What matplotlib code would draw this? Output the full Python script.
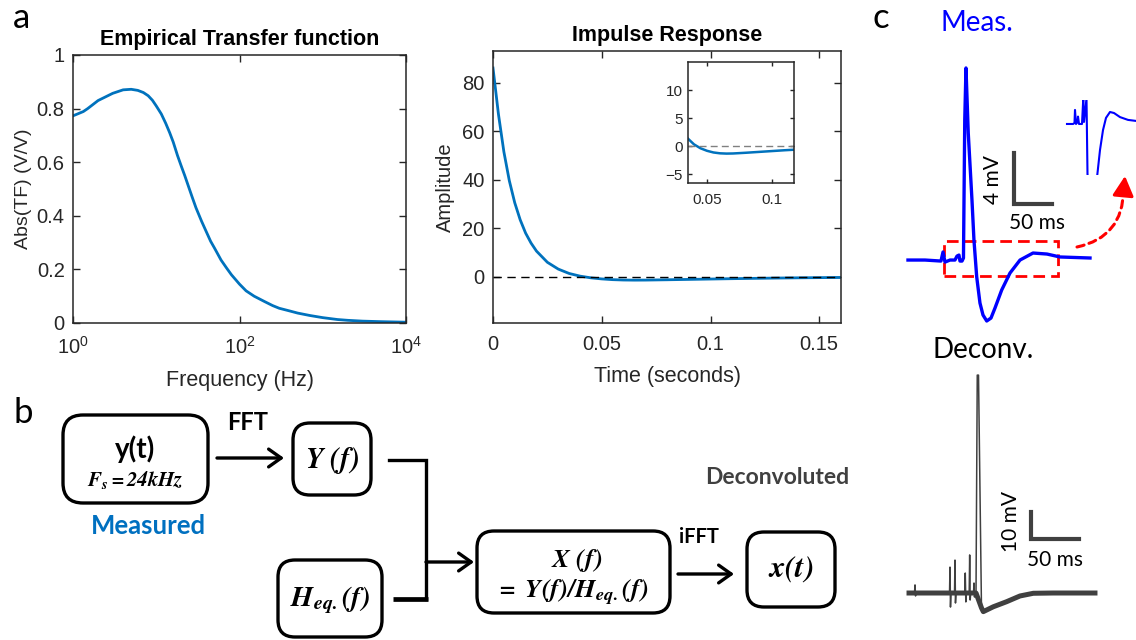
import matplotlib
matplotlib.use("Agg")
import matplotlib.pyplot as plt
from matplotlib.patches import FancyBboxPatch, FancyArrowPatch, Rectangle
from matplotlib.ticker import NullLocator

W, H = 1136, 640

# ---- values ----
# panel a, left: empirical transfer function
tf_freq_hz = [1, 1.33, 1.5, 2, 3, 4, 5, 6, 7, 8, 9, 10, 11.5, 13, 14.5, 16,
              18, 20, 22, 25, 27, 30, 35, 40, 45, 50, 60, 70, 80, 100, 120,
              150, 200, 250, 300, 400, 500, 700, 1000, 1500, 2000, 3000, 5000,
              10000]
tf_abs = [0.773, 0.789, 0.80, 0.83, 0.857, 0.870, 0.872, 0.868, 0.860, 0.848,
          0.831, 0.81, 0.78, 0.745, 0.71, 0.675, 0.625, 0.585, 0.55, 0.50,
          0.47, 0.43, 0.38, 0.34, 0.305, 0.28, 0.235, 0.205, 0.18, 0.145,
          0.12, 0.10, 0.08, 0.065, 0.055, 0.045, 0.037, 0.028, 0.02, 0.013,
          0.01, 0.007, 0.005, 0.003]

# panel a, right: impulse response
ir_time_s = [0, 0.0025, 0.005, 0.0075, 0.01, 0.0125, 0.015, 0.0175, 0.02,
             0.025, 0.03, 0.035, 0.04, 0.045, 0.05, 0.055, 0.06, 0.065, 0.07,
             0.08, 0.09, 0.1, 0.11, 0.12, 0.13, 0.14, 0.15, 0.16]
ir_amp = [86, 67, 51.5, 39.6, 30.5, 23.5, 18.0, 13.9, 10.6, 6.0, 3.2, 1.4,
          0.3, -0.4, -0.85, -1.15, -1.3, -1.35, -1.33, -1.2, -1.05, -0.9,
          -0.75, -0.62, -0.5, -0.4, -0.32, -0.25]

# panel c: measured trace (ms, mV)
meas_t = [0, 22.4, 43.4, 46.1, 48.7, 55.3, 61.8, 64.5, 67.1, 68.4, 71.1, 73.0,
          74.7, 76.3, 79.3, 84.2, 86.8, 90.4, 94.7, 98.7, 103.6, 109.2, 114.5,
          123.3, 134.2, 147.4, 164.5, 182.9, 200, 239.5]
meas_v = [0, 0, -0.08, 0.63, -0.16, 0, 0, 0.31, 0.39, -0.08, -0.08, 0.16,
          11.0, 15.06, 9.96, 4.7, 1.57, -1.31, -3.37, -4.31, -4.78, -4.55,
          -3.76, -2.35, -1.02, 0, 0.55, 0.47, 0.24, 0.16]

# panel c: enlarged view of the dashed window
zoom_t = [47, 58, 60.5, 61.4, 63.2, 66, 66.8, 68.6, 74, 76.3, 77.6, 82.1,
          83.9, 86.6, 97.4, 101.5, 106.4, 111.8, 117.2, 124.4, 131.6, 142.4,
          156.8, 171.2]
zoom_v = [0, 0, 0.04, 0.55, 0, 0.08, 0.29, 0, 0, 1.0, 0.08, 1.0, -1.96,
          -2.9, -2.9, -2.0, -1.02, -0.24, 0.24, 0.47, 0.43, 0.27, 0.16, 0.12]
zoom_window = (47.4, 197.4, -1.25, 1.49)   # t0, t1, v0, v1

# panel c: deconvolved trace (ms, mV)
dec_t = [0, 5.7, 6.25, 6.8, 7.3, 42.2, 42.7, 43.2, 43.75, 47.4, 47.9, 48.4,
         49, 58.1, 58.6, 59.2, 59.7, 62.7, 63.2, 63.7, 64.3, 67.2, 67.7, 68.2,
         68.75, 69.8, 71.1, 72.4, 75.5, 77.4, 87.8, 101.8, 115.6, 129.5, 150,
         193.75]
dec_v = [0, 0, 3.0, -1.1, 0, 0, 9.6, -5.2, 0, 0, 12.2, -3.7, 0, 0, 7.4, -3.3,
         0, 0, 14.1, -2.6, 0, 0, 3.7, -1.5, 0, 0, 80.7, 80.7, -5.5, -6.9,
         -5.1, -3.2, -1.1, -0.1, 0, 0]
dec_base_t = [0, 69.8, 75.5, 77.4, 87.8, 101.8, 115.6, 129.5, 150, 193.75]
dec_base_v = [0, 0, -5.5, -6.9, -5.1, -3.2, -1.1, -0.1, 0, 0]

# ---- style ----
plt.rcParams["font.family"] = ["Liberation Sans", "DejaVu Sans"]
plt.rcParams["mathtext.fontset"] = "custom"
plt.rcParams["mathtext.rm"] = "Liberation Sans"
plt.rcParams["mathtext.it"] = "Liberation Sans:italic"
plt.rcParams["mathtext.bf"] = "Liberation Sans:bold"

MATLAB_BLUE = "#0072BD"
AX_GREY = "#262626"
TRACE_BLUE = "#0000FF"
DARK = "#404040"
PANEL_FONT = ["Lato", "DejaVu Sans"]


def px_rect(x0, y0, x1, y1):
    return [x0 / W, 1 - y1 / H, (x1 - x0) / W, (y1 - y0) / H]


def matlab_style(ax, labelsize=14.5, xpad=9, ypad=6):
    for s in ax.spines.values():
        s.set_color(AX_GREY)
        s.set_linewidth(1.1)
    ax.tick_params(direction="in", top=True, right=True, length=5, width=1.0,
                   colors=AX_GREY, labelsize=labelsize)
    ax.tick_params(axis="x", pad=xpad)
    ax.tick_params(axis="y", pad=ypad)


fig = plt.figure(figsize=(W / 100, H / 100), dpi=100)

# pixel-coordinate overlay for panel letters and the block diagram
ov = fig.add_axes([0, 0, 1, 1])
ov.set_xlim(0, W)
ov.set_ylim(H, 0)
ov.axis("off")

# ---- panel a, transfer function ----
ax1 = fig.add_axes(px_rect(73, 55, 406, 323))
ax1.semilogx(tf_freq_hz, tf_abs, color=MATLAB_BLUE, lw=2)
ax1.set_xlim(1, 1e4)
ax1.set_ylim(0, 1)
ax1.set_xticks([1, 1e2, 1e4], ["$10^0$", "$10^2$", "$10^4$"])
ax1.xaxis.set_minor_locator(NullLocator())
ax1.set_yticks([0, 0.2, 0.4, 0.6, 0.8, 1], ["0", "0.2", "0.4", "0.6", "0.8", "1"])
matlab_style(ax1)
ax1.set_xlabel("Frequency (Hz)", fontsize=15.5, color=AX_GREY, labelpad=9)
ax1.set_ylabel("Abs(TF) (V/V)", fontsize=14, color=AX_GREY, labelpad=3)
ax1.set_title("Empirical Transfer function", fontsize=15.5, fontweight="bold", pad=7)

# ---- panel a, impulse response ----
ax2 = fig.add_axes(px_rect(493, 51, 841, 323))
ax2.plot(ir_time_s, ir_amp, color=MATLAB_BLUE, lw=2)
ax2.axhline(0, color="black", ls=(0, (6, 4)), lw=1)
ax2.set_xlim(0, 0.16)
ax2.set_ylim(-19, 93)
ax2.set_xticks([0, 0.05, 0.1, 0.15], ["0", "0.05", "0.1", "0.15"])
ax2.set_yticks([0, 20, 40, 60, 80])
matlab_style(ax2)
ax2.set_xlabel("Time (seconds)", fontsize=15.5, color=AX_GREY, labelpad=8)
ax2.set_ylabel("Amplitude", fontsize=14.5, color=AX_GREY, labelpad=5)
ax2.set_title("Impulse Response", fontsize=15.5, fontweight="bold", pad=7)

ax3 = fig.add_axes(px_rect(688, 62, 794, 183))
ax3.plot(ir_time_s, ir_amp, color=MATLAB_BLUE, lw=1.8)
ax3.axhline(0, color="#808080", ls=(0, (5, 3)), lw=1)
ax3.set_xlim(0.0354, 0.117)
ax3.set_ylim(-6.6, 15)
ax3.set_xticks([0.05, 0.1], ["0.05", "0.1"])
ax3.set_yticks([-5, 0, 5, 10])
matlab_style(ax3, labelsize=11, xpad=7, ypad=4)
ax3.tick_params(length=3)

# ---- panel letters ----
for letter, x, y in [("a", 22, 18), ("b", 23, 413), ("c", 881, 18)]:
    ov.text(x, y, letter, fontsize=25, family=PANEL_FONT, ha="center", va="center")

# ---- panel b, block diagram ----
def box(x0, y0, x1, y1, r=17):
    ov.add_patch(FancyBboxPatch((x0, y0), x1 - x0, y1 - y0,
                                boxstyle=f"round,pad=0,rounding_size={r}",
                                fc="none", ec="black", lw=2.4))


def arrow(x0, x1, y):
    ov.add_patch(FancyArrowPatch((x0, y), (x1, y),
                                 arrowstyle="->,head_length=0.45,head_width=0.32",
                                 mutation_scale=20, lw=2.4, color="black",
                                 shrinkA=0, shrinkB=0))


box(63, 415, 208, 503, 20)
box(293, 423, 371, 495)
box(278, 560, 382, 637)
box(477, 531, 670, 613)
box(747, 532, 835, 607)

arrow(217, 284, 458)
arrow(426, 474, 562)
arrow(678, 734, 574)
ov.plot([389, 426, 426], [460, 460, 599], color="black", lw=2.4, solid_joinstyle="miter")
ov.plot([393, 427.5], [599, 599], color="black", lw=3.4, solid_capstyle="butt")

ov.text(135, 449, "y(t)", fontsize=20, fontweight="bold", family=PANEL_FONT,
        ha="center", va="center")
ov.text(135, 480, r"$\mathbfit{F_s = 24kHz}$", math_fontfamily="stix",
        fontsize=15, ha="center", va="center")
ov.text(148, 526, "Measured", fontsize=18.5, fontweight="bold", color="#0070C0",
        family=PANEL_FONT, ha="center", va="center")
ov.text(248, 423, "FFT", fontsize=17, fontweight="bold", family=PANEL_FONT,
        ha="center", va="center")
ov.text(332, 460, r"$\mathbfit{Y\ (f)}$", math_fontfamily="stix", fontsize=21,
        ha="center", va="center")
ov.text(330, 600, r"$\mathbfit{H_{eq.}(f)}$", math_fontfamily="stix", fontsize=20.5,
        ha="center", va="center")
ov.text(577, 560, r"$\mathbfit{X\ (f)}$", math_fontfamily="stix", fontsize=19,
        ha="center", va="center")
ov.text(572, 593, r"$\mathbfit{=\ Y(f)/H_{eq.}(f)}$", math_fontfamily="stix",
        fontsize=19, ha="center", va="center")
ov.text(699, 537, "iFFT", fontsize=14.5, fontweight="bold", family=PANEL_FONT,
        ha="center", va="center")
ov.text(791, 569, r"$\mathbfit{x(t)}$", math_fontfamily="stix", fontsize=22,
        ha="center", va="center")
ov.text(777, 478, "Deconvoluted", fontsize=16.5, fontweight="bold", color=DARK,
        family=PANEL_FONT, ha="center", va="center")

# ---- panel c, measured ----
ov.text(977, 23, "Meas.", fontsize=20, color=TRACE_BLUE, family=PANEL_FONT,
        ha="center", va="center")
axm = fig.add_axes(px_rect(900, 50, 1136, 340))
axm.plot(meas_t, meas_v, color=TRACE_BLUE, lw=2.4)
axm.set_xlim(-10.5, 300)
axm.set_ylim(-6.27, 16.47)
axm.axis("off")
t0, t1, v0, v1 = zoom_window
axm.add_patch(Rectangle((t0, v0), t1 - t0, v1 - v0, fill=False, ec="#FF0000",
                        lw=2, ls=(0, (4.2, 2.2))))
axm.plot([139.5, 139.5, 189.5], [8.39, 4.39, 4.39], color=DARK, lw=3,
         solid_joinstyle="miter")
axm.text(112.5, 6.3, "4 mV", rotation=90, fontsize=15, family=PANEL_FONT,
         ha="center", va="center")
axm.text(170, 2.9, "50 ms", fontsize=15, family=PANEL_FONT, ha="center", va="center")

axz = fig.add_axes(px_rect(1060, 100, 1136, 175))
axz.plot(zoom_t, zoom_v, color=TRACE_BLUE, lw=1.5)
axz.set_xlim(34.4, 171.2)
axz.set_ylim(-2.0, 0.94)
axz.axis("off")

# dashed curved link, with a solid head drawn separately
ov.add_patch(FancyArrowPatch((1077, 247), (1123.5, 190), connectionstyle="arc3,rad=0.4",
                             arrowstyle="-", lw=2.2, color="#FF0000",
                             ls=(0, (2.4, 1.7)), shrinkA=0, shrinkB=0))
ov.add_patch(FancyArrowPatch((1123.5, 192), (1125, 176),
                             arrowstyle="-|>,head_length=0.75,head_width=0.4",
                             mutation_scale=16, lw=2.2, color="#FF0000",
                             shrinkA=0, shrinkB=0))

# ---- panel c, deconvolved ----
ov.text(983, 350, "Deconv.", fontsize=20, family=PANEL_FONT, ha="center", va="center")
axd = fig.add_axes(px_rect(900, 360, 1136, 630))
axd.plot(dec_base_t, dec_base_v, color=DARK, lw=3.6)
axd.plot(dec_t, dec_v, color=DARK, lw=1.1)
axd.set_xlim(-9.4, 236.5)
axd.set_ylim(-13.7, 86.3)
axd.axis("off")
axd.plot([127.1, 127.1, 177.1], [30, 20, 20], color=DARK, lw=3,
         solid_joinstyle="miter")
axd.text(106, 26.5, "10 mV", rotation=90, fontsize=15, family=PANEL_FONT,
         ha="center", va="center")
axd.text(152, 12.2, "50 ms", fontsize=15, family=PANEL_FONT, ha="center", va="center")

fig.savefig("out.png", dpi=100)
